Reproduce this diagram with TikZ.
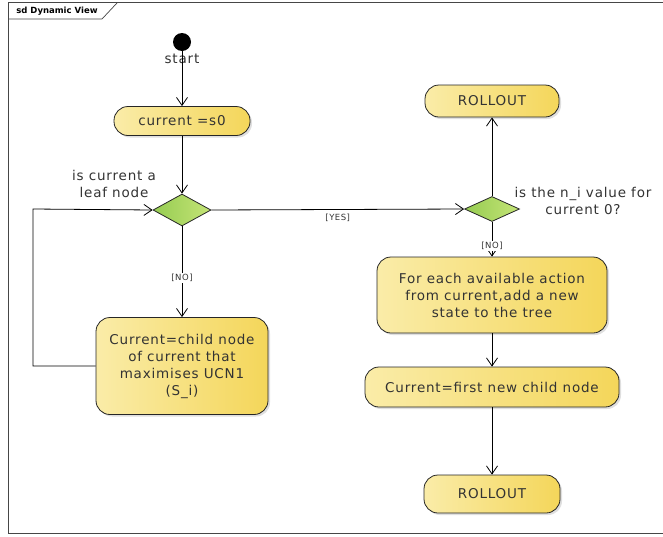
\documentclass[tikz,border=0pt]{standalone}
\usepackage{fontspec}
\setsansfont{DejaVu Sans}
\newfontfamily\diagfont[LetterSpace=6]{DejaVu Sans}
\usepackage{tikz}
\usetikzlibrary{shapes.geometric}
\usetikzlibrary{arrows.meta}
\usetikzlibrary{shadows}
\usepackage{xcolor}
\definecolor{actleft}{RGB}{250,236,168}
\definecolor{actright}{RGB}{244,214,90}
\definecolor{decleft}{RGB}{150,204,82}
\definecolor{decright}{RGB}{196,228,118}
\definecolor{framegray}{RGB}{70,70,70}

\begin{document}
\begin{tikzpicture}[x=1pt,y=-1pt,
  action/.style={draw=black!85, line width=0.8pt, rounded corners=14pt, left color=actleft, right color=actright,
    drop shadow={opacity=0.25, shadow xshift=2pt, shadow yshift=-2pt},
    font=\diagfont\fontsize{13.5}{17}\selectfont, text=black!80, align=center, inner sep=0pt},
  decision/.style={diamond, draw=black!85, line width=0.8pt, left color=decleft, right color=decright,
    inner sep=0pt, minimum width=58pt, minimum height=32pt},
  flow/.style={line width=0.8pt, -{Straight Barb[length=8pt,width=11pt]}},
  guard/.style={font=\diagfont\fontsize{8.5}{10}\selectfont, text=black!80},
  note/.style={font=\diagfont\fontsize{13.5}{17}\selectfont, text=black!80, align=center}]
\useasboundingbox (0,0) rectangle (663,536);

% frame
\draw [framegray, line width=0.9pt] (663,2) -- (8,2) -- (8,533) -- (663,533);
\draw [framegray, line width=0.7pt] (8,19) -- (102,19) -- (117,3);
\node [font=\sffamily\bfseries\fontsize{8.5}{10}\selectfont] (title) at (57,11) {sd Dynamic View};

% left column
\node [circle, fill=black, minimum size=18pt, inner sep=0pt] (start) at (182,42) {};
\node [font=\diagfont\fontsize{13.5}{15}\selectfont, text=black!80] (startlbl) at (182,59) {start};
\node [action, minimum width=136pt, minimum height=29pt] (init) at (182,121) {current =s0};
\node [decision] (leaf) at (182,210) {};
\node [note] (leaflbl) at (114,184) {is current a\\leaf node};
\node [action, minimum width=172pt, minimum height=97pt] (select) at (182,366)
  {Current=child node\\of current that\\maximises UCN1\\(S\_i)};

% right column
\node [decision, minimum width=55pt, minimum height=25pt] (visited) at (492,209) {};
\node [note] (visitlbl) at (583,201) {is the n\_i value for\\current 0?};
\node [action, minimum width=134pt, minimum height=32pt] (rollA) at (492,101) {ROLLOUT};
\node [action, minimum width=230pt, minimum height=76pt] (expand) at (492,295)
  {For each available action\\from current,add a new\\state to the tree};
\node [action, minimum width=254pt, minimum height=40pt] (first) at (492,387) {Current=first new child node};
\node [action, minimum width=136pt, minimum height=38pt] (rollB) at (492,494) {ROLLOUT};

\coordinate (loopbot) at (33,366);
\coordinate (looptop) at (33,209);

\draw [flow] (start) -- (init);
\draw [flow] (init) -- (leaf);
\draw [flow] (leaf) -- node [guard, pos=0.57, fill=white, inner sep=1pt] {[NO]} (select);
\draw [flow] (select.west) -- (loopbot) -- (looptop) -- (leaf.west);
\draw [flow] (leaf.east) -- node [guard, below=1pt, pos=0.5] {[YES]} (visited.west);
\draw [flow] (visited) -- (rollA);
\draw [flow] (visited) -- node [guard, pos=0.7, fill=white, inner sep=1pt] {[NO]} (expand);
\draw [flow] (expand) -- (first);
\draw [flow] (first) -- (rollB);

\end{tikzpicture}
\end{document}
